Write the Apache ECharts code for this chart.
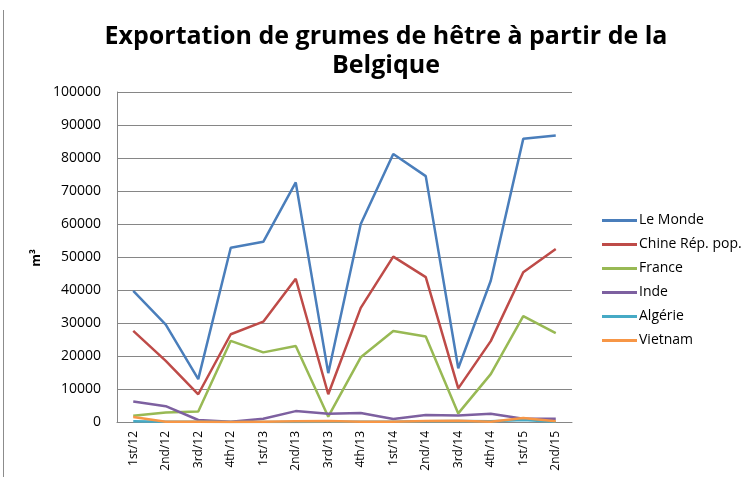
<!DOCTYPE html>
<html>
<head>
<meta charset="utf-8">
<script src="https://cdn.jsdelivr.net/npm/echarts@6/dist/echarts.min.js"></script>
<style>
  html, body { margin: 0; padding: 0; background: #fff; }
  #chart { width: 750px; height: 479px; }
</style>
</head>
<body>
<div id="chart"></div>
<script>
const categories = ['1st/12', '2nd/12', '3rd/12', '4th/12', '1st/13', '2nd/13', '3rd/13',
  '4th/13', '1st/14', '2nd/14', '3rd/14', '4th/14', '1st/15', '2nd/15'];
const leMonde = [39700, 29500, 13000, 52800, 54600, 72600, 14800, 60000, 81200, 74500, 16300, 42800, 85800, 86800];
const chine = [27600, 18500, 8400, 26600, 30400, 43400, 8400, 34600, 50100, 43900, 10200, 24500, 45400, 52400];
const france = [1900, 2900, 3200, 24600, 21100, 23000, 1600, 19600, 27600, 25900, 2600, 14500, 32100, 26900];
const inde = [6200, 4800, 600, 100, 1000, 3300, 2500, 2700, 900, 2100, 2000, 2500, 1000, 1000];
const algerie = [200, 100, 50, 0, 0, 0, 100, 100, 100, 200, 300, 200, 600, 100];
const vietnam = [1500, 100, 100, 0, 100, 200, 300, 100, 100, 300, 400, 100, 1200, 200];
const yTicks = [0, 10000, 20000, 30000, 40000, 50000, 60000, 70000, 80000, 90000, 100000];

const seriesDefs = [
  { name: 'Le Monde', data: leMonde, color: '#4A7EBB' },
  { name: 'Chine Rép. pop.', data: chine, color: '#BE4B48' },
  { name: 'France', data: france, color: '#98B954' },
  { name: 'Inde', data: inde, color: '#7D60A0' },
  { name: 'Algérie', data: algerie, color: '#46AAC5' },
  { name: 'Vietnam', data: vietnam, color: '#F79646' },
];

const chart = echarts.init(document.getElementById('chart'));
const font = 'Open Sans, DejaVu Sans, sans-serif';

chart.setOption({
  animation: false,
  textStyle: { fontFamily: font },
  title: {
    text: 'Exportation de grumes de hêtre à partir de la\nBelgique',
    left: 381,
    textAlign: 'center',
    top: 17,
    textStyle: { fontSize: 25, fontWeight: 'bold', color: '#000', lineHeight: 29, fontFamily: font },
  },
  graphic: [
    { type: 'line', shape: { x1: 3.5, y1: 10, x2: 3.5, y2: 477 }, style: { stroke: '#8c8c8c', lineWidth: 1 } },
    {
      type: 'text', x: 36, y: 258, rotation: Math.PI / 2,
      style: { text: 'm³', fill: '#000', font: 'bold 13px ' + font, align: 'center', verticalAlign: 'middle' },
    },
  ],
  legend: {
    orient: 'vertical',
    left: 597,
    top: 207,
    itemGap: 7,
    itemWidth: 35,
    itemHeight: 3,
    icon: 'rect',
    data: seriesDefs.map((s) => s.name),
    textStyle: { fontSize: 14, lineHeight: 17, height: 17, color: '#000', padding: [0, 0, 0, -3] },
  },
  grid: { left: 117, right: 178, top: 92, bottom: 57 },
  xAxis: {
    type: 'category',
    data: categories,
    boundaryGap: true,
    axisLine: { lineStyle: { color: '#868686' } },
    axisTick: { show: false },
    axisLabel: { rotate: 90, color: '#000', fontSize: 12, margin: 9 },
  },
  yAxis: {
    type: 'value',
    min: yTicks[0],
    max: yTicks[yTicks.length - 1],
    interval: 10000,
    axisLine: { show: true, lineStyle: { color: '#868686' } },
    axisTick: { show: false },
    axisLabel: { color: '#000', fontSize: 14, margin: 16, formatter: (v) => String(v) },
    splitLine: { lineStyle: { color: '#868686' } },
  },
  series: seriesDefs.map((s) => ({
    name: s.name,
    type: 'line',
    data: s.data,
    symbol: 'none',
    color: s.color,
    lineStyle: { width: 2.5, color: s.color },
  })),
});
</script>
</body>
</html>
